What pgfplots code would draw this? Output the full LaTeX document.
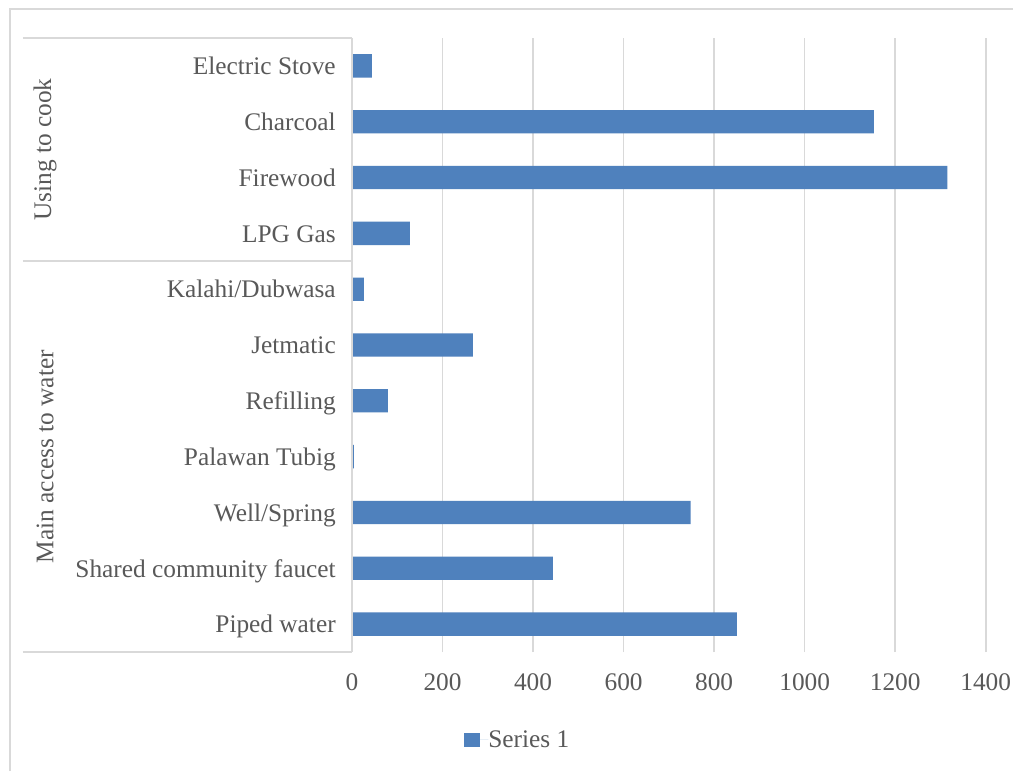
\documentclass[border=0pt]{standalone}
\usepackage{pgfplots}
\pgfplotsset{compat=1.18}
\usepackage{fontspec}
\setmainfont{Liberation Serif}
\definecolor{barblue}{HTML}{4F81BD}
\definecolor{gridgray}{HTML}{D9D9D9}
\definecolor{txtgray}{HTML}{595959}
\begin{document}
\begin{tikzpicture}[x=0.75pt,y=0.75pt]
\path[use as bounding box,fill=white] (0,0) rectangle (1013,771);
\draw[gridgray,line width=1.2pt] (10,0) -- (10,762) -- (1013,762);
\begin{axis}[
  at={(264pt,89.25pt)}, anchor=south west,
  scale only axis, width=475.3pt, height=460.5pt,
  xbar, bar width=17.5pt,
  xmin=0, xmax=1400, ymin=-0.5, ymax=10.5,
  enlargelimits=false,
  axis x line=bottom, axis y line=left,
  axis line style={-,draw=none},
  major tick length=0pt, tick style={draw=none},
  xtick={0,200,...,1400},
  ytick={0,...,10},
  yticklabels={Piped water,Shared community faucet,Well/Spring,Palawan Tubig,Refilling,Jetmatic,Kalahi/Dubwasa,LPG Gas,Firewood,Charcoal,Electric Stove},
  xmajorgrids, grid style={gridgray,line width=1.2pt},
  /pgf/number format/assume math mode=true,
  /pgf/number format/1000 sep={},
  every tick label/.append style={font=\fontsize{19}{22}\selectfont, text=txtgray},
  yticklabel style={inner sep=0pt, anchor=base east, xshift=-12pt, yshift=-6.6pt},
  xticklabel style={inner sep=0pt, anchor=center, yshift=-23pt},
  legend style={at={(0.26,-0.1433)}, anchor=center, draw=none, fill=none,
    font=\fontsize{19}{22}\selectfont, text=txtgray, inner sep=0pt,
    nodes={inner sep=0pt}},
  legend image code/.code={\fill[barblue] (0pt,-5.6pt) rectangle (11.5pt,5.6pt);\path (0pt,0pt) -- (18pt,0pt);},
  clip=false,
]
\addplot[fill=barblue, draw=none] coordinates {
  (850,0) (444,1) (748,2) (4,3) (79,4) (267,5) (26,6) (128,7) (1315,8) (1153,9) (44,10)
};
\addlegendentry{Series 1}
\draw[gridgray,line width=1.2pt] (rel axis cs:0,0) -- (rel axis cs:0,1);
\draw[gridgray,line width=1.2pt] ([xshift=-246.75pt]rel axis cs:0,1) -- (rel axis cs:0,1);
\draw[gridgray,line width=1.2pt] ([xshift=-246.75pt]rel axis cs:0,0) -- (rel axis cs:0,0);
\draw[gridgray,line width=1.2pt] ([xshift=-246.75pt]axis cs:0,6.5) -- (axis cs:0,6.5);
\node[rotate=90, text=txtgray, font=\fontsize{19}{22}\selectfont, inner sep=0pt] at ([xshift=-230.25pt]axis cs:0,8.5) {Using to cook};
\node[rotate=90, text=txtgray, font=\fontsize{19}{22}\selectfont, inner sep=0pt] at ([xshift=-230.25pt]axis cs:0,3) {Main access to water};
\end{axis}
\end{tikzpicture}
\end{document}
